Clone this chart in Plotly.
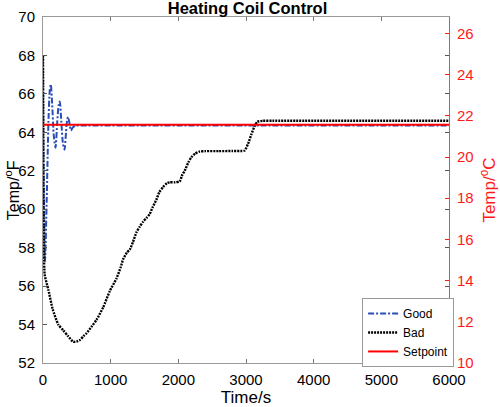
import plotly.graph_objects as go

# ---- data ----
good_t = [0, 12, 30, 55, 80, 100, 115, 135, 160, 185, 210, 230, 248, 270, 295, 318, 340, 355, 370, 390, 412, 440, 480, 520, 6000]
good_v = [68, 61, 57.3, 60.5, 64.5, 66.2, 66.5, 65.5, 63.8, 63.2, 64.5, 65.4, 65.6, 64.6, 63.4, 63.1, 64.0, 64.6, 64.8, 64.5, 64.1, 64.25, 64.35, 64.35, 64.35]

bad_t = [0, 8, 25, 80, 143, 226, 300, 370, 447, 500, 546, 600, 644, 720, 792, 890, 988, 1086, 1150, 1184, 1240,
         1283, 1330, 1381, 1430, 1479, 1530, 1577, 1620, 1676, 1720, 1774, 1830, 1872, 1950, 2020, 2060, 2094,
         2150, 2192, 2250, 2314, 2400, 2600, 2800, 2978, 3030, 3080, 3130, 3170, 3250, 3400, 6000]
bad_v = [68, 60, 56.6, 55.8, 54.8, 54.0, 53.7, 53.4, 53.1, 53.12, 53.2, 53.4, 53.55, 53.9, 54.25, 54.9, 55.75, 56.4, 57.0, 57.4, 57.75,
         57.9, 58.3, 58.8, 59.1, 59.35, 59.55, 59.75, 60.1, 60.5, 60.9, 61.15, 61.35, 61.4, 61.4, 61.45, 61.8, 62.0,
         62.45, 62.7, 62.9, 63.0, 63.02, 63.02, 63.03, 63.05, 63.4, 63.9, 64.35, 64.55, 64.6, 64.6, 64.6]

setpoint_t = [0, 6000]
setpoint_v = [64.4, 64.4]

x_ticks = [0, 1000, 2000, 3000, 4000, 5000, 6000]
yF_ticks = [52, 54, 56, 58, 60, 62, 64, 66, 68, 70]
yC_ticks = [10, 12, 14, 16, 18, 20, 22, 24, 26]

FONT = "Arial, Liberation Sans, sans-serif"
RED = "#ff1a1a"

fig = go.Figure()
fig.add_trace(go.Scatter(x=good_t, y=good_v, name="Good", mode="lines",
                         line=dict(color="#2a4db5", width=2, dash="6px,2px,2px,2px", shape="spline", smoothing=0.6)))
fig.add_trace(go.Scatter(x=bad_t, y=bad_v, name="Bad", mode="lines",
                         line=dict(color="black", width=2.4, dash="2px,1px", shape="spline", smoothing=0.5)))
fig.add_trace(go.Scatter(x=setpoint_t, y=setpoint_v, name="Setpoint", mode="lines",
                         line=dict(color="#ff0000", width=2)))
fig.add_trace(go.Scatter(x=[None], y=[None], yaxis="y2", showlegend=False, hoverinfo="skip"))

fig.update_layout(
    width=500, height=407,
    margin=dict(l=43, r=51, t=17, b=44),
    paper_bgcolor="white", plot_bgcolor="white",
    font=dict(family=FONT, size=15, color="black"),
    title=dict(text="<b>Heating Coil Control</b>", x=0.495, xanchor="center",
               y=0.981, yanchor="middle", yref="container", automargin=False,
               font=dict(size=16.5, color="black")),
    xaxis=dict(range=[0, 6000], tickvals=x_ticks, ticks="inside", ticklen=4, tickcolor="#777",
               showline=True, linecolor="#999", linewidth=1, mirror="ticks", showgrid=False, zeroline=False,
               ticklabelstandoff=3, automargin=False, tickfont=dict(size=15),
               title=dict(text="Time/s", standoff=2, font=dict(size=17))),
    yaxis=dict(range=[52, 70], tickvals=yF_ticks, ticks="inside", ticklen=4, tickcolor="#555",
               showline=True, linecolor="#999", linewidth=1, mirror="ticks", showgrid=False, zeroline=False,
               ticklabelstandoff=4, automargin=False, tickfont=dict(size=15)),
    yaxis2=dict(range=[10, 26.8], tickvals=yC_ticks, overlaying="y", side="right", anchor="x",
                ticks="inside", ticklen=4, tickcolor=RED, showline=True, linecolor="#d9534f", linewidth=1,
                showgrid=False, zeroline=False, tickfont=dict(color=RED, size=15), ticklabelstandoff=4,
                automargin=False,
                title=dict(text="Temp/<sup>o</sup>C", standoff=10, font=dict(color=RED, size=17))),
    legend=dict(x=0.786, y=0.188, xanchor="left", yanchor="top", bgcolor="white",
                bordercolor="#999", borderwidth=1, font=dict(size=12), itemwidth=30, tracegroupgap=0),
    showlegend=True,
    annotations=[dict(text="Temp/<sup>o</sup>F", xref="paper", yref="paper", x=-0.076, y=0.5,
                      xanchor="center", yanchor="middle", textangle=-90, showarrow=False,
                      font=dict(size=16, color="black"))],
)

fig.write_html("out.html", config={"displayModeBar": False},
               post_script="document.body.style.margin='0';document.body.style.overflow='hidden';")
